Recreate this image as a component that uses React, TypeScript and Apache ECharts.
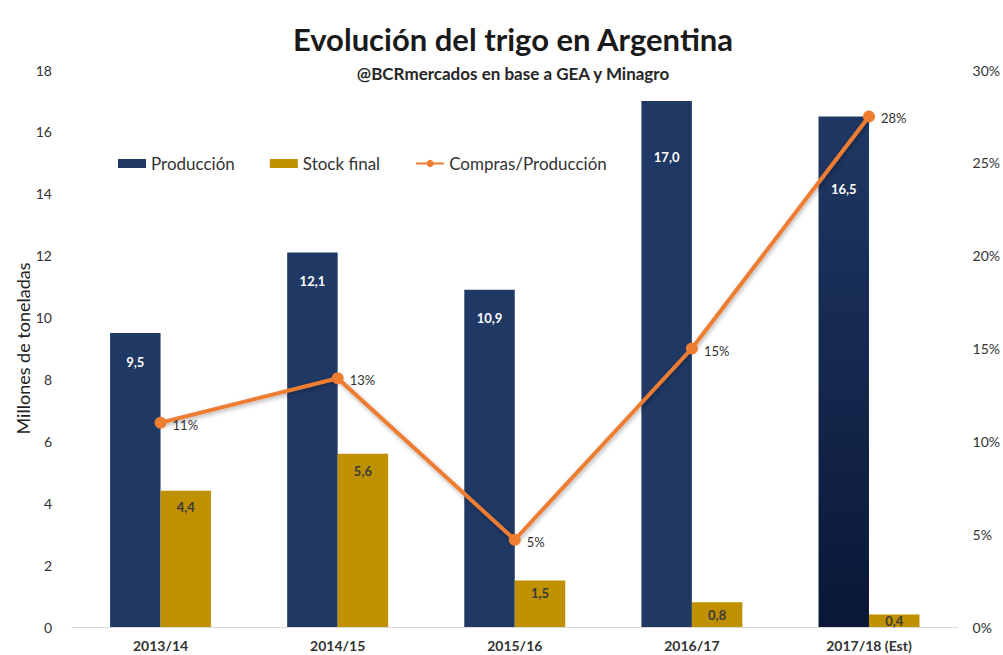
import React, { useEffect, useRef } from "react";
import * as echarts from "echarts";

const categories = ["2013/14", "2014/15", "2015/16", "2016/17", "2017/18 (Est)"];
const produccion = [9.5, 12.1, 10.9, 17.0, 16.5];
const stockFinal = [4.4, 5.6, 1.5, 0.8, 0.4];
const comprasProduccion = [0.11, 0.134, 0.047, 0.15, 0.275];
const leftTicks = [0, 2, 4, 6, 8, 10, 12, 14, 16, 18];

const FONT = "Lato, 'Open Sans', sans-serif";
const NAVY = "#203864";
const GOLD = "#bf9000";
const ORANGE = "#ed7d31";

export default function App() {
  const ref = useRef<HTMLDivElement>(null);
  useEffect(() => {
    document.body.style.margin = "0";
    if (!ref.current) return;
    const chart = echarts.init(ref.current, undefined, { renderer: "svg" });
    const prodLabelDist = [22, 22, 22, 50, 66];
    const stockLabelDist = [10, 11, 6, 6, 0];
    chart.setOption({
      animation: false,
      backgroundColor: "#ffffff",
      textStyle: { fontFamily: FONT },
      title: {
        text: "Evolución del trigo en Argentina",
        subtext: "@BCRmercados en base a GEA y Minagro",
        left: 508,
        textAlign: "center",
        top: 18,
        itemGap: 11,
        textStyle: { fontSize: 31, fontWeight: "bold", color: "#1a1a1a", fontFamily: FONT },
        subtextStyle: { fontSize: 17, fontWeight: "bold", color: "#262626", fontFamily: FONT },
      },
      legend: {
        left: 113,
        top: 150,
        itemGap: 35,
        itemWidth: 28,
        itemHeight: 9,
        textStyle: { fontSize: 17, color: "#333", fontFamily: FONT },
        data: [
          { name: "Producción", icon: "rect" },
          { name: "Stock final", icon: "rect" },
          { name: "Compras/Producción" },
        ],
      },
      grid: { left: 72, right: 41, top: 70, bottom: 28, containLabel: false },
      xAxis: {
        type: "category",
        data: categories,
        axisTick: { show: false },
        axisLine: { lineStyle: { color: "#d9d9d9", width: 1 } },
        axisLabel: { fontSize: 14, fontWeight: "bold", color: "#333", margin: 11, fontFamily: FONT },
      },
      yAxis: [
        {
          type: "value",
          min: leftTicks[0],
          max: leftTicks[leftTicks.length - 1],
          interval: 2,
          name: "Millones de toneladas",
          nameLocation: "middle",
          nameGap: 40,
          nameMoveOverlap: false,
          nameRotate: 90,
          nameTextStyle: { fontSize: 18, color: "#222", fontFamily: FONT },
          splitLine: { show: false },
          axisLine: { show: false },
          axisTick: { show: false },
          axisLabel: { fontSize: 14, color: "#333", margin: 20, fontFamily: FONT },
        },
        {
          type: "value",
          min: 0,
          max: 0.3,
          interval: 0.05,
          splitLine: { show: false },
          axisLine: { show: false },
          axisTick: { show: false },
          axisLabel: {
            fontSize: 14,
            color: "#333",
            margin: 15,
            fontFamily: FONT,
            formatter: (v: number) => Math.round(v * 100) + "%",
          },
        },
      ],
      series: [
        {
          name: "Producción",
          type: "bar",
          barGap: "0%",
          barCategoryGap: "43%",
          itemStyle: { color: NAVY },
          data: produccion.map((v, i) => ({
            value: v,
            itemStyle:
              i === 4
                ? {
                    color: new echarts.graphic.LinearGradient(0, 0, 0, 1, [
                      { offset: 0, color: "#1f3864" },
                      { offset: 1, color: "#0a1736" },
                    ]),
                  }
                : undefined,
            label: { distance: prodLabelDist[i] },
          })),
          label: {
            show: true,
            position: "insideTop",
            color: "#ffffff",
            fontWeight: "bold",
            fontSize: 13,
            fontFamily: FONT,
            formatter: (p: any) => p.value.toFixed(1).replace(".", ","),
          },
        },
        {
          name: "Stock final",
          type: "bar",
          itemStyle: { color: GOLD },
          data: stockFinal.map((v, i) => ({ value: v, label: { distance: stockLabelDist[i] } })),
          label: {
            show: true,
            position: "insideTop",
            color: "#3a3a3a",
            fontWeight: "bold",
            fontSize: 13,
            fontFamily: FONT,
            formatter: (p: any) => p.value.toFixed(1).replace(".", ","),
          },
        },
        {
          name: "Compras/Producción",
          type: "line",
          yAxisIndex: 1,
          data: comprasProduccion,
          symbol: "circle",
          symbolSize: 12,
          itemStyle: { color: ORANGE },
          lineStyle: {
            color: ORANGE,
            width: 4,
            shadowColor: "rgba(0,0,0,0.3)",
            shadowBlur: 4,
            shadowOffsetY: 2,
            shadowOffsetX: 1,
          },
          label: {
            show: true,
            position: "right",
            distance: 6,
            offset: [0, 2],
            color: "#333",
            fontSize: 13,
            fontFamily: FONT,
            formatter: (p: any) => Math.round(p.value * 100) + "%",
          },
          z: 5,
        },
      ],
    });
    return () => chart.dispose();
  }, []);
  return <div ref={ref} style={{ width: 1003, height: 655 }} />;
}
